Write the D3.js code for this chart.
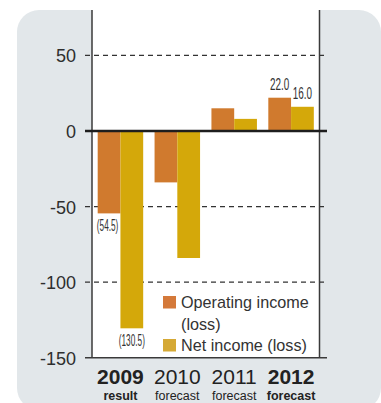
<!DOCTYPE html>
<html>
<head>
<meta charset="utf-8">
<script src="https://cdn.jsdelivr.net/npm/d3@7"></script>
<style>
  html, body { margin: 0; padding: 0; background: #ffffff; }
  svg { display: block; }
  text { font-family: "Liberation Sans", Arial, Helvetica, sans-serif; }
</style>
</head>
<body>
<svg id="chart" width="381" height="403"></svg>
<script>
// Fiscal years and their captions
const years = ["2009", "2010", "2011", "2012"];
const yearNotes = ["result", "forecast", "forecast", "forecast"];
const boldYears = ["2009", "2012"];

// Series values (billions)
const operatingIncome = [-54.5, -34, 15, 22.0];
const netIncome = [-130.5, -84, 8, 16.0];

// Which bars carry a value label: [year index, series key]
const labelled = [[0, "op"], [0, "net"], [3, "op"], [3, "net"]];

// Y axis ticks
const yTicks = [50, 0, -50, -100, -150];
const gridTicks = [50, -50, -100];

const seriesKeys = ["op", "net"];
const seriesValues = { op: operatingIncome, net: netIncome };
const colors = { op: "#d07a2e", net: "#d4a80a" };
const legendColors = { op: "#d4793a", net: "#d5a935" };

const svg = d3.select("#chart");

const plotLeft = 92, plotRight = 319.5, plotTop = 10;

const y = d3.scaleLinear().domain([-150, 80]).range([357.8, plotTop]);

const x = d3.scaleBand()
  .domain(years)
  .range([plotLeft, plotRight])
  .paddingInner(0.2)
  .paddingOuter(0.1);

const xs = d3.scaleBand().domain(seriesKeys).range([0, x.bandwidth()]);

// Grey background panel with rounded corners
svg.append("rect")
  .attr("x", 17).attr("y", 10)
  .attr("width", 364).attr("height", 400)
  .attr("rx", 22).attr("ry", 22)
  .attr("fill", "#e2e7ea");

// White plotting area
svg.append("rect")
  .attr("x", plotLeft).attr("y", plotTop)
  .attr("width", plotRight - plotLeft)
  .attr("height", y(-150) - plotTop)
  .attr("fill", "#ffffff");

// Dashed gridlines
svg.append("g").selectAll("line")
  .data(gridTicks)
  .join("line")
  .attr("x1", 85).attr("x2", 325)
  .attr("y1", d => y(d)).attr("y2", d => y(d))
  .attr("stroke", "#333")
  .attr("stroke-width", 1.2)
  .attr("stroke-dasharray", "5,4");

// Bars
const groups = svg.append("g").selectAll("g")
  .data(years)
  .join("g")
  .attr("transform", d => `translate(${x(d)},0)`);

groups.selectAll("rect")
  .data((d, i) => seriesKeys.map(k => ({ key: k, value: seriesValues[k][i] })))
  .join("rect")
  .attr("x", d => xs(d.key))
  .attr("width", xs.bandwidth())
  .attr("y", d => y(Math.max(0, d.value)))
  .attr("height", d => Math.abs(y(d.value) - y(0)))
  .attr("fill", d => colors[d.key]);

// Plot frame: side rules, bottom rule and the zero baseline
svg.append("line")
  .attr("x1", plotLeft).attr("x2", plotLeft)
  .attr("y1", plotTop).attr("y2", y(-150))
  .attr("stroke", "#3a3a3a").attr("stroke-width", 1.5);
svg.append("line")
  .attr("x1", plotRight).attr("x2", plotRight)
  .attr("y1", plotTop).attr("y2", y(-150))
  .attr("stroke", "#3a3a3a").attr("stroke-width", 1.5);
svg.append("line")
  .attr("x1", 85).attr("x2", 327)
  .attr("y1", y(-150)).attr("y2", y(-150))
  .attr("stroke", "#3a3a3a").attr("stroke-width", 1.5);
svg.append("line")
  .attr("x1", 85).attr("x2", 327)
  .attr("y1", y(0)).attr("y2", y(0))
  .attr("stroke", "#1e1e1e").attr("stroke-width", 2.5);

// Y axis tick labels
const yAxis = d3.axisLeft(y)
  .tickValues(yTicks)
  .tickSize(0)
  .tickPadding(0)
  .tickFormat(d => d === 0 ? "0" : (d < 0 ? "-" + Math.abs(d) : String(d)));

const yAxisG = svg.append("g")
  .attr("transform", "translate(76,0)")
  .call(yAxis);
yAxisG.select(".domain").remove();
yAxisG.selectAll("text")
  .attr("font-family", "\"Liberation Sans\", Arial, sans-serif")
  .attr("font-size", 18)
  .attr("fill", "#2e2e2e")
  .attr("dy", "0.36em");

// Value labels on selected bars (negatives shown in parentheses)
const fmt = v => v < 0 ? "(" + Math.abs(v).toFixed(1) + ")" : v.toFixed(1);
svg.append("g").selectAll("text")
  .data(labelled.map(([i, k]) => ({ year: years[i], key: k, value: seriesValues[k][i] })))
  .join("text")
  .attr("transform", d => {
    const cx = x(d.year) + xs(d.key) + xs.bandwidth() / 2 - (d.value < 0 && d.key === "op" ? 1.5 : 0);
    const cy = d.value < 0 ? y(d.value) + 17.2 : y(d.value) - 7.5;
    const sx = d.value < 0 ? 0.5 : 0.6;
    return `translate(${cx},${cy}) scale(${sx},1)`;
  })
  .attr("text-anchor", "middle")
  .attr("font-size", d => d.value < 0 ? 16.5 : 16.5)
  .attr("fill", "#333")
  .text(d => fmt(d.value));

// X axis labels: year and caption
const xLab = svg.append("g").selectAll("g")
  .data(years)
  .join("g")
  .attr("transform", d => `translate(${x(d) + x.bandwidth() / 2},0)`);

xLab.append("text")
  .attr("y", 384)
  .attr("text-anchor", "middle")
  .attr("font-size", 21)
  .attr("font-weight", d => boldYears.includes(d) ? "bold" : "normal")
  .attr("fill", "#222")
  .text(d => d);

xLab.append("text")
  .attr("y", 400)
  .attr("text-anchor", "middle")
  .attr("font-size", 12.5)
  .attr("font-weight", d => boldYears.includes(d) ? "bold" : "normal")
  .attr("fill", "#222")
  .text((d, i) => yearNotes[i]);

// Legend
const legend = svg.append("g").attr("transform", "translate(163,0)");
const legendRows = [
  { key: "op", lines: ["Operating income", "(loss)"], top: 296 },
  { key: "net", lines: ["Net income (loss)"], top: 339 }
];
legendRows.forEach(r => {
  legend.append("rect")
    .attr("x", 0).attr("y", r.top)
    .attr("width", 13).attr("height", 12.5)
    .attr("fill", legendColors[r.key]);
  r.lines.forEach((line, j) => {
    legend.append("text")
      .attr("x", 18)
      .attr("y", r.top + 12 + j * 21.5)
      .attr("font-size", 16.2)
      .attr("fill", "#333")
      .text(line);
  });
});
</script>
</body>
</html>
